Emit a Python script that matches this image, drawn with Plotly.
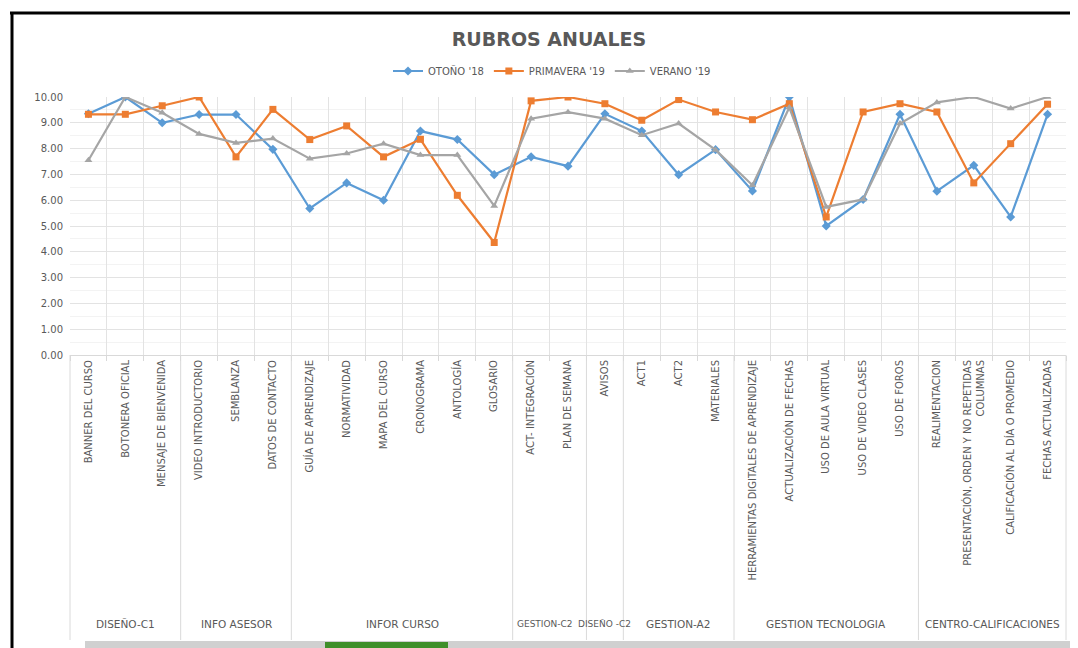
import plotly.graph_objects as go

groups = ["DISEÑO-C1"] * 3 + ["INFO ASESOR"] * 3 + ["INFOR CURSO"] * 6 + ["GESTION-C2"] * 2 + \
         ["DISEÑO -C2"] * 1 + ["GESTION-A2"] * 3 + ["GESTION TECNOLOGIA"] * 5 + ["CENTRO-CALIFICACIONES"] * 4

categories = [
    "BANNER DEL CURSO", "BOTONERA OFICIAL", "MENSAJE DE BIENVENIDA",
    "VIDEO INTRODUCTORIO", "SEMBLANZA", "DATOS DE CONTACTO",
    "GUÍA DE APRENDIZAJE", "NORMATIVIDAD", "MAPA DEL CURSO", "CRONOGRAMA", "ANTOLOGÍA", "GLOSARIO",
    "ACT- INTEGRACIÓN", "PLAN DE SEMANA",
    "AVISOS",
    "ACT1", "ACT2", "MATERIALES",
    "HERRAMIENTAS DIGITALES DE APRENDIZAJE", "ACTUALIZACIÓN DE FECHAS", "USO DE AULA VIRTUAL",
    "USO DE VIDEO CLASES", "USO DE FOROS",
    "REALIMENTACION", "PRESENTACIÓN, ORDEN Y NO REPETIDAS<br>COLUMNAS",
    "CALIFICACIÓN AL DÍA O PROMEDIO", "FECHAS ACTUALIZADAS",
]

otono_18 = [9.35, 10.0, 9.0, 9.32, 9.32, 7.97, 5.68, 6.67, 6.0, 8.68, 8.35, 6.99, 7.68, 7.32,
            9.35, 8.68, 6.99, 7.96, 6.36, 10.0, 5.0, 6.03, 9.33, 6.35, 7.35, 5.35, 9.33]
primavera_19 = [9.33, 9.33, 9.66, 10.0, 7.68, 9.52, 8.35, 8.88, 7.68, 8.36, 6.19, 4.36, 9.85, 10.0,
                9.74, 9.1, 9.9, 9.42, 9.12, 9.74, 5.35, 9.42, 9.74, 9.42, 6.67, 8.19, 9.72]
verano_19 = [7.55, 10.0, 9.39, 8.57, 8.22, 8.39, 7.61, 7.81, 8.19, 7.75, 7.75, 5.78, 9.16, 9.41,
             9.16, 8.52, 8.97, 7.95, 6.58, 9.59, 5.74, 6.03, 8.97, 9.79, 10.0, 9.55, 10.0]

series = [
    ("OTOÑO '18", otono_18, "#5B9BD5", "diamond", 7),
    ("PRIMAVERA '19", primavera_19, "#ED7D31", "square", 7),
    ("VERANO '19", verano_19, "#A5A5A5", "triangle-up", 7),
]

FONT = "DejaVu Sans, sans-serif"
TXT = "#595959"

fig = go.Figure()
for name, vals, color, sym, size in series:
    fig.add_trace(go.Scatter(
        x=categories, y=vals, name=name, mode="lines+markers",
        line=dict(color=color, width=2.2),
        marker=dict(symbol=sym, size=size, color=color),
    ))

# page offset (body margin of the html page)
OFF = 8
W, H = 1078 - OFF, 648 - OFF
L, R, T, B = 70 - OFF, 12, 97 - OFF, 293
pw, ph = W - L - R, H - T - B


def px(x):
    return (x - OFF - L) / pw


def py(y):
    return (H - B - (y - OFF)) / ph


n = len(categories)

fig.update_layout(
    width=W, height=H,
    margin=dict(l=L, r=R, t=T, b=B),
    paper_bgcolor="white", plot_bgcolor="white",
    font=dict(family=FONT, color=TXT),
    title=dict(text="<b>RUBROS ANUALES</b>", x=(549 - OFF) / W, xref="container", xanchor="center",
               y=1 - (39 - OFF) / H, yref="container", yanchor="middle",
               font=dict(size=19, color=TXT, family=FONT)),
    legend=dict(orientation="h", x=px(552), xanchor="center", y=py(71), yanchor="middle",
                font=dict(size=10, color=TXT, family=FONT), tracegroupgap=0),
    showlegend=True,
    xaxis=dict(
        type="category", range=[-0.5, n - 0.5], showgrid=True, gridcolor="#E3E3E3", gridwidth=1,
        tickson="boundaries", ticks="outside", ticklen=5, tickcolor="#D9D9D9",
        tickangle=-90, tickfont=dict(size=10, color=TXT, family=FONT),
        showline=True, linecolor="#D9D9D9", automargin=False,
    ),
    yaxis=dict(
        range=[0, 10], dtick=1, tickformat=".2f", showgrid=True, gridcolor="#E3E3E3",
        tickfont=dict(size=10, color=TXT, family=FONT), zeroline=False, automargin=False,
        minor=dict(dtick=0.5, showgrid=True, gridcolor="#F3F3F3"),
        showline=False, ticks="", ticklabelstandoff=6,
    ),
)

# group dividers and labels, derived from the groups list
bounds = [0]
for i in range(1, n):
    if groups[i] != groups[i - 1]:
        bounds.append(i)
bounds.append(n)
for b in bounds:
    fig.add_shape(type="line", xref="paper", yref="paper", x0=b / n, x1=b / n,
                  y0=0, y1=py(640), line=dict(color="#DADADA", width=1))
for s, e in zip(bounds[:-1], bounds[1:]):
    narrow = (e - s) <= 2
    if narrow and e - s == 2:
        xpos, anchor = s / n + 0.002, "left"
    else:
        xpos, anchor = (s + e) / 2 / n, "center"
    fig.add_annotation(text=groups[s], xref="paper", yref="paper", x=xpos, y=py(624),
                       showarrow=False, xanchor=anchor, yanchor="middle",
                       font=dict(size=9 if narrow else 10.5, color=TXT, family=FONT))

# screenshot frame
fig.add_shape(type="line", xref="paper", yref="paper", x0=px(10), x1=px(1078), y0=py(13), y1=py(13),
              line=dict(color="black", width=3))
fig.add_shape(type="line", xref="paper", yref="paper", x0=px(12), x1=px(12), y0=py(12), y1=py(648),
              line=dict(color="black", width=3))
fig.add_shape(type="rect", xref="paper", yref="paper", x0=px(85), x1=px(1078), y0=py(641), y1=py(648),
              fillcolor="#D0D0D0", line=dict(width=0), layer="above")
fig.add_shape(type="rect", xref="paper", yref="paper", x0=px(325), x1=px(448), y0=py(642), y1=py(648),
              fillcolor="#3F8F2A", line=dict(width=0), layer="above")

fig.write_html("out.html")
